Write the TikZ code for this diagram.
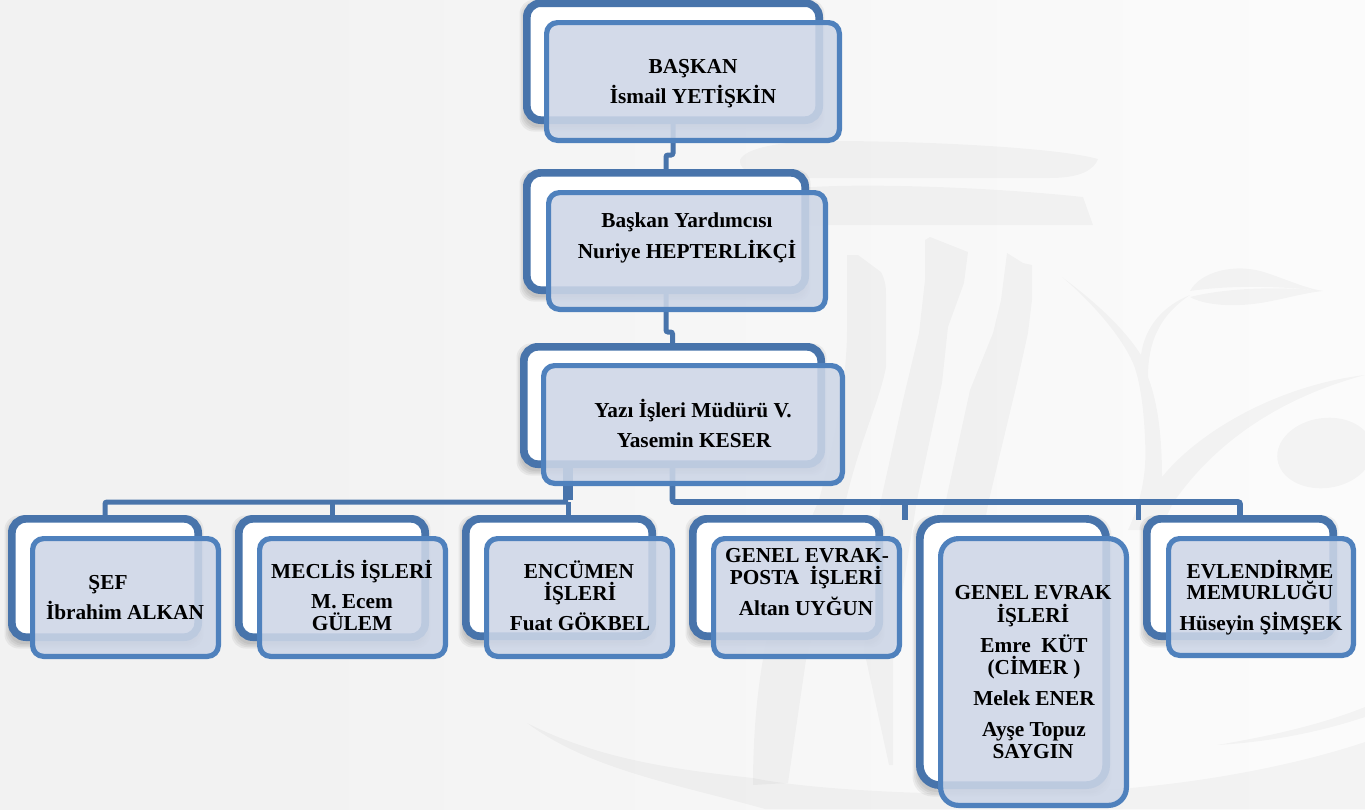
\documentclass[tikz,border=0pt]{standalone}
\usepackage{fontspec}
\setmainfont{Liberation Serif}
\definecolor{bgA}{HTML}{F2F2F2}
\definecolor{bgB}{HTML}{F6F6F6}
\definecolor{bgC}{HTML}{FBFBFB}
\definecolor{bgD}{HTML}{FDFDFD}
\definecolor{darkblue}{HTML}{4874AB}
\definecolor{midblue}{HTML}{4F81BD}
\definecolor{paleblue}{HTML}{CDD6E7}
\pgfdeclarehorizontalshading{pagebg}{100bp}{color(0bp)=(bgA); color(36bp)=(bgA); color(50bp)=(bgB); color(73bp)=(bgC); color(100bp)=(bgD)}
\tikzset{
  backbox/.style={draw=darkblue,line width=7.7pt,fill=white,inner sep=0pt,outer sep=0pt},
  frontbox/.style={draw=midblue,line width=5.2pt,fill=paleblue,fill opacity=.88,draw opacity=1,inner sep=0pt,outer sep=0pt},
  conn/.style={draw=darkblue,line width=5pt,rounded corners=2pt},
  wm/.style={fill=black,fill opacity=.03,draw=none},
  softshadow/.style={fill=black,fill opacity=.05,draw=none},
  txt/.style={anchor=base,inner sep=0pt,text=black,font=\fontsize{21.3}{24}\selectfont\bfseries}
}
% name, outer x1,y1,x2,y2, corner radius
\newcommand\BackBox[6]{%
  \foreach \g in {0,1.5,3,4.5}{%
    \fill[softshadow,rounded corners=#6pt] ({#2-1-\g+2},{#3+3-\g+2}) rectangle ({#4-1+\g-2},{#5+3+\g});}%
  \node[backbox,rounded corners=#6pt,minimum width={(#4-#2-7.7)*1pt},minimum height={(#5-#3-7.7)*1pt}] (#1) at ({(#2+#4)/2},{(#3+#5)/2}) {};}
\newcommand\FrontBox[6]{%
  \node[frontbox,rounded corners=#6pt,minimum width={(#4-#2-5.2)*1pt},minimum height={(#5-#3-5.2)*1pt}] (#1) at ({(#2+#4)/2},{(#3+#5)/2}) {};}
\newcommand\Line[4]{\node[txt] (#1) at (#2,#3) {#4};}
\begin{document}
\begin{tikzpicture}[x=1pt,y=-1pt]
\useasboundingbox (0,0) rectangle (1365,809);
\shade[shading=pagebg] (0,0) rectangle (1365,809);
% --- watermark: capital
\fill[wm] (740,160) .. controls (745,148) and (780,141) .. (830,141) .. controls (930,141) and (1060,148) .. (1098,159) .. controls (1094,170) and (1080,178) .. (1050,178) -- (790,178) .. controls (760,178) and (738,172) .. (740,160) -- cycle;
\fill[wm] (800,188) .. controls (850,183) and (980,186) .. (1083,197) -- (1093,225) -- (800,225) -- cycle;
% --- watermark: columns
\fill[wm] (847,255) -- (858,255) -- (881,272) .. controls (885,280) and (886,285) .. (886,295) -- (886,367) .. controls (880,400) and (860,440) .. (846,500) -- (806,660) -- (788,783) -- (753,785) .. controls (753,720) and (760,650) .. (780,590) -- (819,500) .. controls (835,440) and (847,380) .. (847,330) -- cycle;
\fill[wm] (925,240) -- (930,237) -- (968,252) -- (964,283) -- (948,327) -- (942,383) -- (917,500) -- (893,650) -- (893,765) -- (889,765) -- (864,650) -- (881,500) -- (903,400) -- (919,333) -- (925,280) -- cycle;
\fill[wm] (1007,253) -- (1023,263) -- (1032,265) -- (1032,300) -- (1028,333) -- (1017,383) -- (989,500) -- (970,600) -- (960,780) -- (920,780) -- (925,580) -- (946,500) -- (970,390) -- (993,333) -- (1001,300) -- cycle;
% --- watermark: plant
\fill[wm] (1062,277) .. controls (1090,298) and (1122,325) .. (1141,355) .. controls (1145,325) and (1165,305) .. (1190,295) .. controls (1165,312) and (1148,335) .. (1148,377) .. controls (1155,395) and (1162,425) .. (1162,477) .. controls (1200,430) and (1280,385) .. (1365,375) .. controls (1290,395) and (1220,435) .. (1173,503) -- (1160,530) -- (1128,530) .. controls (1142,500) and (1147,470) .. (1145,440) .. controls (1144,410) and (1140,380) .. (1133,363) .. controls (1122,338) and (1095,305) .. (1062,277) -- cycle;
\fill[wm] (1190,291) .. controls (1200,272) and (1235,262) .. (1267,273) .. controls (1285,279) and (1305,288) .. (1323,291) .. controls (1280,286) and (1230,285) .. (1190,291) -- cycle;
\fill[wm] (1190,297) .. controls (1225,288) and (1280,286) .. (1323,291) .. controls (1295,294) and (1270,304) .. (1240,305) .. controls (1220,306) and (1200,303) .. (1190,297) -- cycle;
\fill[wm,rotate around={8:(1325,453)}] (1325,453) ellipse [x radius=48,y radius=35];
% --- watermark: bottom swoosh
\fill[wm] (527,723) .. controls (600,760) and (680,770) .. (753,778) .. controls (820,792) and (1000,800) .. (1130,788) .. controls (1200,782) and (1290,767) .. (1365,742) -- (1365,809) -- (765,809) .. controls (680,785) and (590,770) .. (527,723) -- cycle;
\fill[wm] (1217,745) .. controls (1270,736) and (1320,725) .. (1365,707) -- (1365,717) .. controls (1320,732) and (1270,742) .. (1217,745) -- cycle;
% --- outer (back) boxes
\BackBox{b1}{523}{-0.7}{823}{124}{14}
\BackBox{b2}{523}{169}{809}{294}{14}
\BackBox{b3}{520}{343}{825}{468}{14}
\BackBox{b4}{8}{515}{202}{641}{14}
\BackBox{b5}{235}{515}{429}{641}{14}
\BackBox{b6}{462}{515}{656}{640}{14}
\BackBox{b7}{689}{515}{883}{640}{14}
\BackBox{b8}{916}{515}{1110}{789}{20}
\BackBox{b9}{1143}{515}{1337}{640}{14}
% --- connectors
\coordinate (j1) at (673,155);
\draw[conn] (b1.south) -- (j1) -- (j1 -| b2.north) -- (b2.north);
\coordinate (j2) at (666,332);
\draw[conn] (b2.south) -- (j2) -- (j2 -| b3.north) -- (b3.north);
\coordinate (busL) at (568,502);
\coordinate (busR) at (905,502);
\coordinate (stubA) at (905,520);
\coordinate (stubB) at (1138.5,520);
\draw[conn,line width=10pt] (b3.south -| busL) -- ([yshift=2pt]busL);
\draw[conn] (busL) -| (b4.north);
\draw[conn] (b5.north) -- (b5.north |- busL);
\draw[conn] (busL) -- (busL |- b6.north);
\draw[conn,line width=5.6pt] (b3.south) |- (busR) -| (b9.north);
\draw[conn,line width=5.6pt,rounded corners=0pt] (busR) -- (stubA);
\draw[conn,line width=5.6pt,rounded corners=0pt] (stubB |- busR) -- (stubB);
% --- inner (front) boxes
\FrontBox{f1}{544}{20}{842}{143}{11}
\FrontBox{f2}{546}{190}{828}{312}{11}
\FrontBox{f3}{541}{363}{845}{486}{11}
\FrontBox{f4}{30}{536}{221}{659}{11}
\FrontBox{f5}{257}{536}{448}{659}{11}
\FrontBox{f6}{484}{536}{675}{659}{11}
\FrontBox{f7}{711}{536}{902}{659}{11}
\FrontBox{f8}{938}{536}{1129}{808}{18}
\FrontBox{f9}{1166}{536}{1356}{658}{11}
% --- texts
\Line{t1a}{693}{73}{BAŞKAN}
\Line{t1b}{693}{103}{İsmail YETİŞKİN}
\Line{t2a}{687}{227}{Başkan Yardımcısı}
\Line{t2b}{687}{258}{Nuriye HEPTERLİKÇİ}
\Line{t3a}{693}{417}{Yazı İşleri Müdürü V.}
\Line{t3b}{694}{447}{Yasemin KESER}
\Line{t4a}{108}{589}{ŞEF}
\Line{t4b}{125}{619}{İbrahim ALKAN}
\Line{t5a}{352}{578}{MECLİS İŞLERİ}
\Line{t5b}{352}{608}{M. Ecem}
\Line{t5c}{352}{630}{GÜLEM}
\Line{t6a}{579}{578}{ENCÜMEN}
\Line{t6b}{580}{600}{İŞLERİ}
\Line{t6c}{580}{630}{Fuat GÖKBEL}
\Line{t7a}{807}{562}{GENEL EVRAK-}
\Line{t7b}{806}{584}{POSTA\ \ İŞLERİ}
\Line{t7c}{806}{615}{Altan UYĞUN}
\Line{t8a}{1033}{599}{GENEL EVRAK}
\Line{t8b}{1033}{622}{İŞLERİ}
\Line{t8c}{1034}{652}{Emre\ \ KÜT}
\Line{t8d}{1034}{674}{(CİMER )}
\Line{t8e}{1034}{705}{Melek ENER}
\Line{t8f}{1034}{736}{Ayşe Topuz}
\Line{t8g}{1033}{758}{SAYGIN}
\Line{t9a}{1260}{578}{EVLENDİRME}
\Line{t9b}{1260}{599}{MEMURLUĞU}
\Line{t9c}{1261}{630}{Hüseyin ŞİMŞEK}
\end{tikzpicture}
\end{document}
